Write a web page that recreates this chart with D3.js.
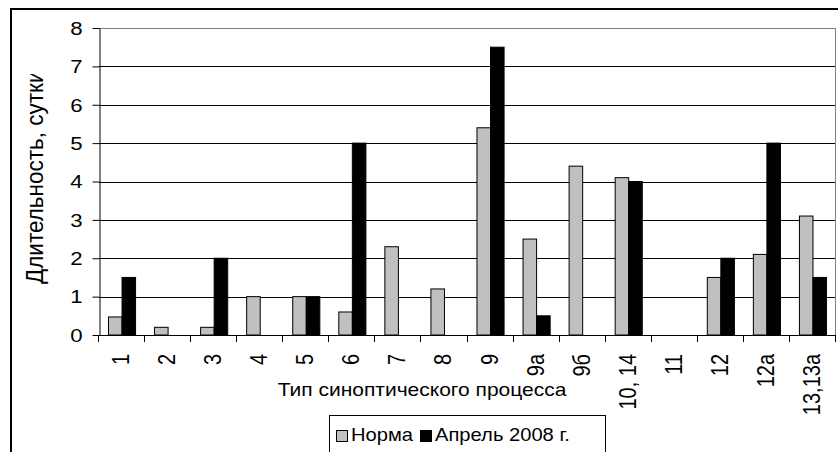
<!DOCTYPE html>
<html>
<head>
<meta charset="utf-8">
<script src="https://cdn.jsdelivr.net/npm/d3@7"></script>
<style>
  body { margin: 0; background: #fff; }
  text { font-family: "Liberation Sans", Arial, sans-serif; fill: #000; }
</style>
</head>
<body>
<svg id="chart"></svg>
<script>
// data
var categories = ["1", "2", "3", "4", "5", "6", "7", "8", "9", "9а", "9б", "10, 14", "11", "12", "12а", "13,13а"];
var normValues = [0.47, 0.2, 0.2, 1.0, 1.0, 0.6, 2.3, 1.2, 5.4, 2.5, 4.4, 4.1, 0, 1.5, 2.1, 3.1];
var aprilValues = [1.5, 0, 2.0, 0, 1.0, 5.0, 0, 0, 7.5, 0.5, 0, 4.0, 0, 2.0, 5.0, 1.5];
var seriesNames = ["Норма", "Апрель 2008 г."];
var seriesColors = ["#c0c0c0", "#000000"];
var yTicks = [0, 1, 2, 3, 4, 5, 6, 7, 8];

var svgWidth = 838;
var svgHeight = 452;
// the source picture is stretched sideways, so text gets a small x scale
var stretch = 1.2;

var plot = { left: 99, top: 28, right: 836, bottom: 335 };

var svg = d3.select("#chart")
  .attr("width", svgWidth)
  .attr("height", svgHeight);

svg.append("rect")
  .attr("width", svgWidth)
  .attr("height", svgHeight)
  .attr("fill", "#fff");

// outer chart border (right and bottom fall outside the picture)
svg.append("rect")
  .attr("x", 11)
  .attr("y", 9)
  .attr("width", 900)
  .attr("height", 500)
  .attr("fill", "none")
  .attr("stroke", "#000")
  .attr("stroke-width", 2);

var xScale = d3.scaleBand()
  .domain(categories)
  .range([plot.left, plot.right]);

var xSeries = d3.scaleBand()
  .domain(seriesNames)
  .range([0, xScale.bandwidth()])
  .paddingOuter(0.7);

var yScale = d3.scaleLinear()
  .domain([0, 8])
  .range([plot.bottom, plot.top]);

// gridlines
svg.append("g")
  .selectAll("line")
  .data(yTicks.filter(d => d > 0))
  .enter()
  .append("line")
  .attr("x1", plot.left)
  .attr("x2", plot.right)
  .attr("y1", d => Math.round(yScale(d)) + 0.5)
  .attr("y2", d => Math.round(yScale(d)) + 0.5)
  .attr("stroke", d => d == 8 ? "#808080" : "#000")
  .attr("stroke-width", 1);

// plot area right border
svg.append("line")
  .attr("x1", plot.right - 0.5)
  .attr("x2", plot.right - 0.5)
  .attr("y1", plot.top)
  .attr("y2", plot.bottom)
  .attr("stroke", "#808080");

// bars
var rows = categories.map((c, i) => ({ cat: c, values: [normValues[i], aprilValues[i]] }));

var groups = svg.append("g")
  .selectAll("g")
  .data(rows)
  .enter()
  .append("g")
  .attr("transform", d => `translate(${xScale(d.cat)},0)`);

groups.selectAll("rect")
  .data(d => d.values.map((v, j) => ({ name: seriesNames[j], value: v, color: seriesColors[j] })).filter(e => e.value > 0))
  .enter()
  .append("rect")
  .attr("x", d => xSeries(d.name))
  .attr("y", d => yScale(d.value))
  .attr("width", xSeries.bandwidth())
  .attr("height", d => yScale(0) - yScale(d.value))
  .attr("fill", d => d.color)
  .attr("stroke", "#000")
  .attr("stroke-width", 1);

// y axis
var yAxis = svg.append("g")
  .attr("transform", `translate(${plot.left + 0.5},0)`)
  .call(d3.axisLeft(yScale).tickValues(yTicks).tickSize(7).tickSizeOuter(0));

yAxis.select(".domain").attr("stroke", "#000");
yAxis.selectAll(".tick line").attr("stroke", "#000");
yAxis.selectAll(".tick text")
  .attr("x", null)
  .attr("dy", null)
  .attr("dominant-baseline", "central")
  .attr("transform", `translate(-17,0) scale(${stretch},1)`)
  .style("font-size", "18.5px")
  .style("font-family", "'Liberation Sans', Arial, sans-serif");

// x axis line and tick marks at the category borders
svg.append("line")
  .attr("x1", plot.left)
  .attr("x2", plot.right)
  .attr("y1", plot.bottom + 0.5)
  .attr("y2", plot.bottom + 0.5)
  .attr("stroke", "#000");

var borders = categories.map(c => xScale(c)).concat([xScale(categories[categories.length - 1]) + xScale.bandwidth()]);
svg.append("g")
  .selectAll("line")
  .data(borders)
  .enter()
  .append("line")
  .attr("x1", d => Math.round(d) - 0.5)
  .attr("x2", d => Math.round(d) - 0.5)
  .attr("y1", plot.bottom)
  .attr("y2", plot.bottom + 7)
  .attr("stroke", "#000");

// rotated category labels
svg.append("g")
  .selectAll("text")
  .data(categories)
  .enter()
  .append("text")
  .attr("transform", d => `translate(${xScale(d) + xScale.bandwidth() / 2 + 7},354) scale(1.15,1) rotate(-90)`)
  .attr("text-anchor", "end")
  .style("font-size", "20px")
  .text(d => d);

// axis titles
svg.append("defs").append("clipPath")
  .attr("id", "ylabel-clip")
  .append("rect")
  .attr("x", 0)
  .attr("y", 74)
  .attr("width", 90)
  .attr("height", 300);

svg.append("g")
  .attr("clip-path", "url(#ylabel-clip)")
  .append("text")
  .attr("transform", `translate(43,284) scale(1.1,1) rotate(-90)`)
  .attr("text-anchor", "start")
  .style("font-size", "22.5px")
  .text("Длительность, сутки");

svg.append("text")
  .attr("transform", `translate(422,396) scale(${stretch},1)`)
  .attr("text-anchor", "middle")
  .style("font-size", "17.5px")
  .text("Тип синоптического процесса");

// legend
var legend = svg.append("g");

legend.append("rect")
  .attr("x", 329.5)
  .attr("y", 415.5)
  .attr("width", 276)
  .attr("height", 60)
  .attr("fill", "#fff")
  .attr("stroke", "#000");

var legendX = [336, 420];
var legendItems = legend.selectAll("g.item")
  .data(seriesNames)
  .enter()
  .append("g")
  .attr("class", "item")
  .attr("transform", (d, i) => `translate(${legendX[i]},0)`);

legendItems.append("rect")
  .attr("x", 0.5)
  .attr("y", 430.5)
  .attr("width", 11)
  .attr("height", 11)
  .attr("fill", (d, i) => seriesColors[i])
  .attr("stroke", "#000");

legendItems.append("text")
  .attr("transform", `translate(15,441) scale(1.12,1)`)
  .style("font-size", "18px")
  .text(d => d);
</script>
</body>
</html>
